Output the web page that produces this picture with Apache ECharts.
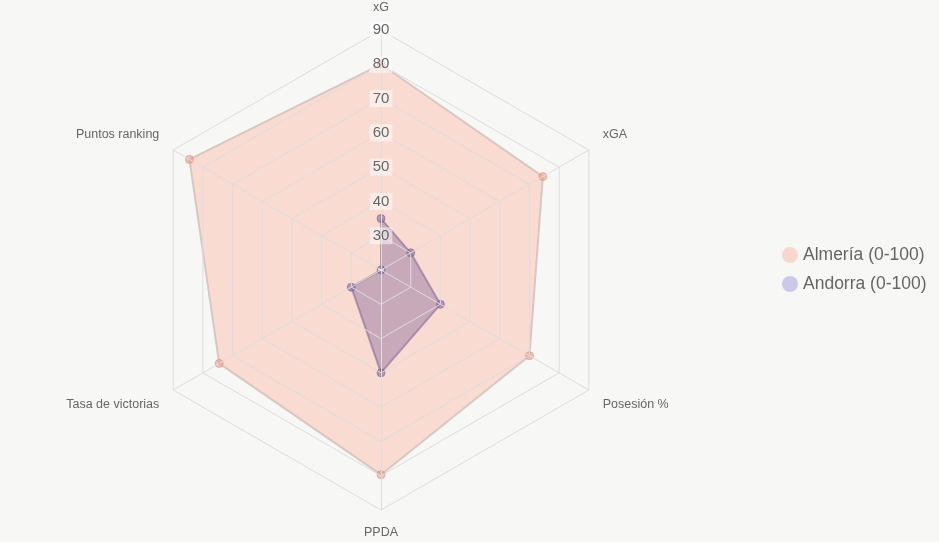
<!DOCTYPE html>
<html><head><meta charset="utf-8">
<script src="https://cdn.jsdelivr.net/npm/echarts@6/dist/echarts.min.js"></script>
<style>html,body{margin:0;padding:0;background:#f7f7f6;}#c{width:939px;height:542px;}</style>
</head><body><div id="c"></div>
<script>
// Categories in clockwise order starting at the top
const categories = ['xG', 'xGA', 'Posesión %', 'PPDA', 'Tasa de victorias', 'Puntos ranking'];
const almeria = [80, 74.5, 70, 79.7, 74.5, 84.5];
const andorra = [35, 30, 40, 50, 30, 20];
const seriesNames = ['Almería (0-100)', 'Andorra (0-100)'];
const scaleMin = 20, scaleMax = 90;

// ECharts radar runs counter-clockwise; reorder so the chart reads clockwise
const order = [0].concat(categories.map((_, i) => i).slice(1).reverse());
const reorder = arr => order.map(i => arr[i]);
const FONT = 'Liberation Sans, Arial, sans-serif';

const chart = echarts.init(document.getElementById('c'), null, {renderer: 'canvas'});
chart.setOption({
  backgroundColor: '#f7f7f6',
  animation: false,
  legend: {
    orient: 'vertical', left: 777, top: 241,
    icon: 'circle', itemWidth: 16, itemHeight: 16, itemGap: 11,
    itemStyle: {borderWidth: 0},
    textStyle: {fontSize: 17.5, color: '#666', fontFamily: FONT},
    data: [
      {name: seriesNames[0], itemStyle: {color: 'rgba(250,190,175,0.55)', borderWidth: 0}},
      {name: seriesNames[1], itemStyle: {color: 'rgba(160,155,215,0.5)', borderWidth: 0}}
    ]
  },
  radar: {
    z: 3,
    center: [381, 270], radius: 240, startAngle: 90,
    splitNumber: 7, shape: 'polygon',
    axisNameGap: 16,
    axisName: {
      color: '#666', fontSize: 12.5, fontFamily: FONT,
      formatter: function (name) {
        const i = categories.indexOf(name);
        if (i === 1 || i === 5) return '{t|' + name + '}\n{s|}';
        if (i === 2 || i === 4) return '{s|}\n{t|' + name + '}';
        return '{t|' + name + '}';
      },
      rich: {
        t: {color: '#666', fontSize: 12.5, fontFamily: FONT},
        s: {height: 14, fontSize: 1}
      }
    },
    splitLine: {lineStyle: {color: '#dddddd', width: 1}},
    splitArea: {show: false},
    axisLine: {lineStyle: {color: '#dddddd', width: 1}},
    axisTick: {show: false},
    axisLabel: {show: false},
    indicator: reorder(categories).map((name, i) => {
      const ind = {name: name, min: scaleMin, max: scaleMax};
      if (i === 0) {
        ind.axisLabel = {
          show: true, color: '#666', fontSize: 15, margin: 0,
          align: 'center', verticalAlign: 'middle',
          fontFamily: FONT,
          backgroundColor: 'rgba(255,255,255,0.5)', padding: [1, 3],
          formatter: v => (v === scaleMin ? '' : String(v))
        };
      }
      return ind;
    })
  },
  series: [{
    type: 'radar', z: 2,
    symbol: 'circle', symbolSize: 8,
    data: [
      {
        name: seriesNames[0], value: reorder(almeria),
        itemStyle: {color: 'rgba(236,150,130,0.55)', borderColor: 'rgba(225,140,120,0.6)', borderWidth: 1},
        lineStyle: {color: 'rgba(200,200,200,0.9)', width: 2},
        areaStyle: {color: 'rgba(255,180,160,0.42)', opacity: 1}
      },
      {
        name: seriesNames[1], value: reorder(andorra),
        itemStyle: {color: 'rgba(130,105,160,0.6)', borderColor: 'rgba(120,100,150,0.6)', borderWidth: 1},
        lineStyle: {color: 'rgba(150,125,160,0.7)', width: 2},
        areaStyle: {color: 'rgba(130,100,150,0.42)', opacity: 1}
      }
    ]
  }]
});
</script></body></html>
